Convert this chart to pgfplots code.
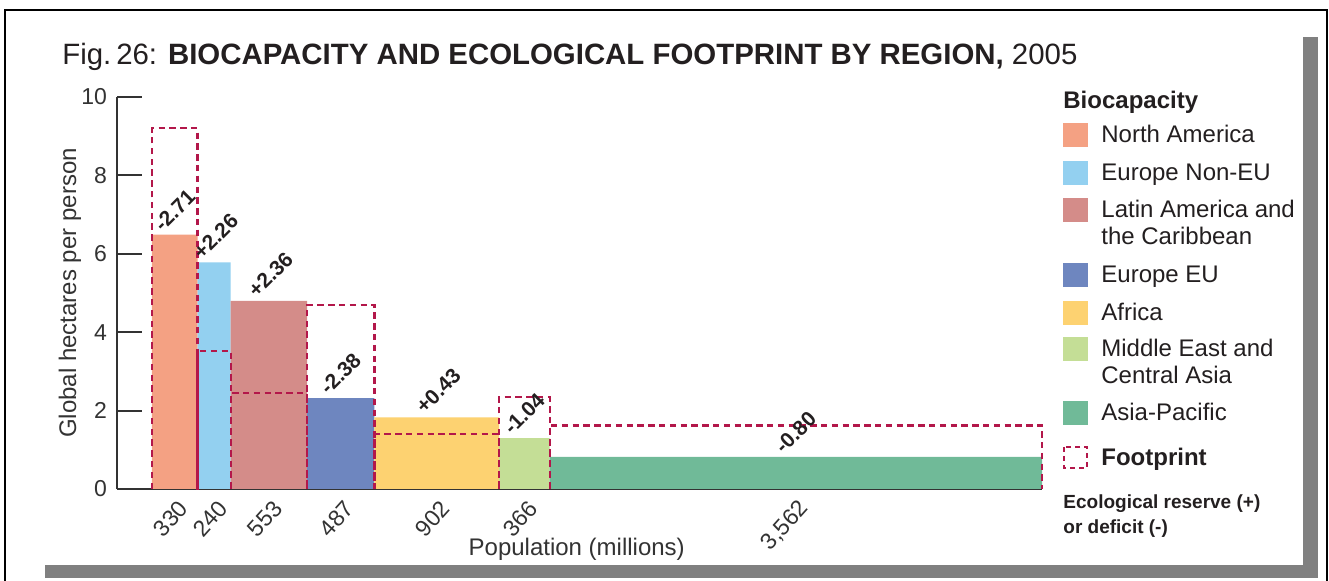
\documentclass[border=0pt]{standalone}
\usepackage{pgfplots}
\pgfplotsset{compat=1.18}
\usepackage{pgfplotstable}
\usepackage{fontspec}
\setmainfont{Liberation Sans}

\definecolor{cNA}{HTML}{F4A183}
\definecolor{cENEU}{HTML}{93D0F0}
\definecolor{cLA}{HTML}{D48C89}
\definecolor{cEU}{HTML}{6E86BF}
\definecolor{cAF}{HTML}{FDD271}
\definecolor{cME}{HTML}{C4DE96}
\definecolor{cAP}{HTML}{70BA98}
\definecolor{cFP}{HTML}{B3174A}
\definecolor{ink}{HTML}{231F20}
\definecolor{axisgray}{HTML}{333333}
\definecolor{shadow}{HTML}{808080}

% Reserve (+) or deficit (-) = biocapacity - footprint, at each region's centre
\pgfplotstableread{
cx      bio   lab
165     6.49  -2.71
450     5.78  +2.26
846.5   4.80  +2.36
1366.5  2.32  -2.38
2061    1.83  +0.43
2695    1.30  -1.04
4659    0.82  -0.80
}\reserve

\tikzset{fp/.style={draw=cFP, line width=1.1pt, dash pattern=on 3.2pt off 2.2pt, mark=none}}

\begin{document}
\begin{tikzpicture}
\useasboundingbox (0,0) rectangle (664.5pt,-290.5pt);
\begin{scope}[x=0.5pt,y=-0.5pt]
  \fill[white] (0,0) rectangle (1329,581);
  \fill[shadow] (1303,37) rectangle (1318,578);
  \fill[shadow] (45,565) rectangle (1318,578);
  \draw[line width=1pt] (5,581) -- (5,10) -- (1327,10) -- (1327,581);
  \node[anchor=base west, inner sep=0pt, text=ink, font=\fontsize{14.7}{17}\selectfont]
    at (62,65) {Fig.\,26: \textbf{BIOCAPACITY AND ECOLOGICAL FOOTPRINT BY REGION,} 2005};
\end{scope}

\begin{axis}[
  at={(58.5pt,-244.5pt)}, anchor=south west,
  scale only axis, width=462.5pt, height=196pt,
  xmin=-253, xmax=6440, ymin=0, ymax=10,
  axis x line=bottom, axis y line=left,
  axis line style={-, line width=1pt, draw=axisgray},
  tick align=inside,
  major tick length=12.5pt,
  ytick={0,2,...,10},
  ytick style={line width=1pt, draw=axisgray},
  xtick style={draw=none},
  minor tick num=0,
  /pgf/number format/assume math mode=true,
  yticklabel style={xshift=-1.5pt, font=\fontsize{11.5}{13}\selectfont, text=axisgray},
  xtick={165,450,846.5,1366.5,2061,2695,4659},
  xticklabels={330,240,553,487,902,366,{3,562}},
  xticklabel style={xshift=4.5pt, yshift=-7.5pt, rotate=48, anchor=east, inner sep=0pt,
    font=\fontsize{11.5}{13}\selectfont, text=axisgray},
  every axis y label/.style={at={(axis description cs:-0.0508,0.5)}, rotate=90, anchor=center,
    font=\fontsize{12}{14}\selectfont, text=axisgray},
  every axis x label/.style={at={(axis description cs:0.497,-0.153)}, anchor=center,
    font=\fontsize{12}{14}\selectfont, text=axisgray},
  ylabel={Global hectares per person},
  xlabel={Population (millions)},
  clip=false,
]
% Biocapacity per person; bar width = population (millions)
\addplot[fill=cNA, draw=none]   coordinates {(0,0) (0,6.49) (330,6.49) (330,0)} \closedcycle;
\addplot[fill=cENEU, draw=none] coordinates {(330,0) (330,5.78) (570,5.78) (570,0)} \closedcycle;
\addplot[fill=cLA, draw=none]   coordinates {(570,0) (570,4.80) (1123,4.80) (1123,0)} \closedcycle;
\addplot[fill=cEU, draw=none]   coordinates {(1123,0) (1123,2.32) (1610,2.32) (1610,0)} \closedcycle;
\addplot[fill=cAF, draw=none]   coordinates {(1610,0) (1610,1.83) (2512,1.83) (2512,0)} \closedcycle;
\addplot[fill=cME, draw=none]   coordinates {(2512,0) (2512,1.30) (2878,1.30) (2878,0)} \closedcycle;
\addplot[fill=cAP, draw=none]   coordinates {(2878,0) (2878,0.82) (6440,0.82) (6440,0)} \closedcycle;
% Ecological footprint per person
\addplot[fp] coordinates {(0,0) (0,9.20) (330,9.20) (330,0)};
\addplot[fp] coordinates {(330,0) (330,3.52) (570,3.52) (570,0)};
\addplot[fp] coordinates {(570,0) (570,2.44) (1123,2.44) (1123,0)};
\addplot[fp] coordinates {(1123,0) (1123,4.70) (1610,4.70) (1610,0)};
\addplot[fp] coordinates {(1610,0) (1610,1.40) (2512,1.40) (2512,0)};
\addplot[fp] coordinates {(2512,0) (2512,2.34) (2878,2.34) (2878,0)};
\addplot[fp] coordinates {(2878,0) (2878,1.62) (6440,1.62) (6440,0)};
% Reserve / deficit labels
\addplot[draw=none, mark=none, nodes near coords, point meta=explicit symbolic,
  every node near coord/.append style={xshift=-6pt, yshift=0.8pt, rotate=45,
    anchor=south west, inner sep=0pt, font=\fontsize{10.5}{12}\selectfont\bfseries, text=ink}]
  table[x=cx, y=bio, meta=lab] {\reserve};
\end{axis}

\begin{scope}[x=0.5pt,y=-0.5pt, every node/.style={anchor=base west, inner sep=0pt, text=ink}]
  \node[font=\fontsize{12}{14}\selectfont\bfseries] at (1063,109) {Biocapacity};
  \foreach \c/\yc/\t in {cNA/135/North America, cENEU/173/Europe Non-EU,
      cLA/210/Latin America and, cEU/275/Europe EU, cAF/313/Africa,
      cME/349/Middle East and, cAP/413/Asia-Pacific}{
    \fill[\c] (1063,\yc-12) rectangle (1088,\yc+12);
    \node[font=\fontsize{12}{14}\selectfont] at (1101,\yc+8) {\t};
  }
  \node[font=\fontsize{12}{14}\selectfont] at (1101,245) {the Caribbean};
  \node[font=\fontsize{12}{14}\selectfont] at (1101,384) {Central Asia};
  \draw[draw=cFP, line width=0.9pt, dash pattern=on 2.5pt off 2pt] (1064,447) rectangle (1087,468);
  \node[font=\fontsize{12}{14}\selectfont\bfseries] at (1101,466) {Footprint};
  \node[font=\fontsize{9.5}{11}\selectfont\bfseries] at (1063,509) {Ecological reserve (+)};
  \node[font=\fontsize{9.5}{11}\selectfont\bfseries] at (1063,534) {or deficit (-)};
\end{scope}
\end{tikzpicture}
\end{document}
